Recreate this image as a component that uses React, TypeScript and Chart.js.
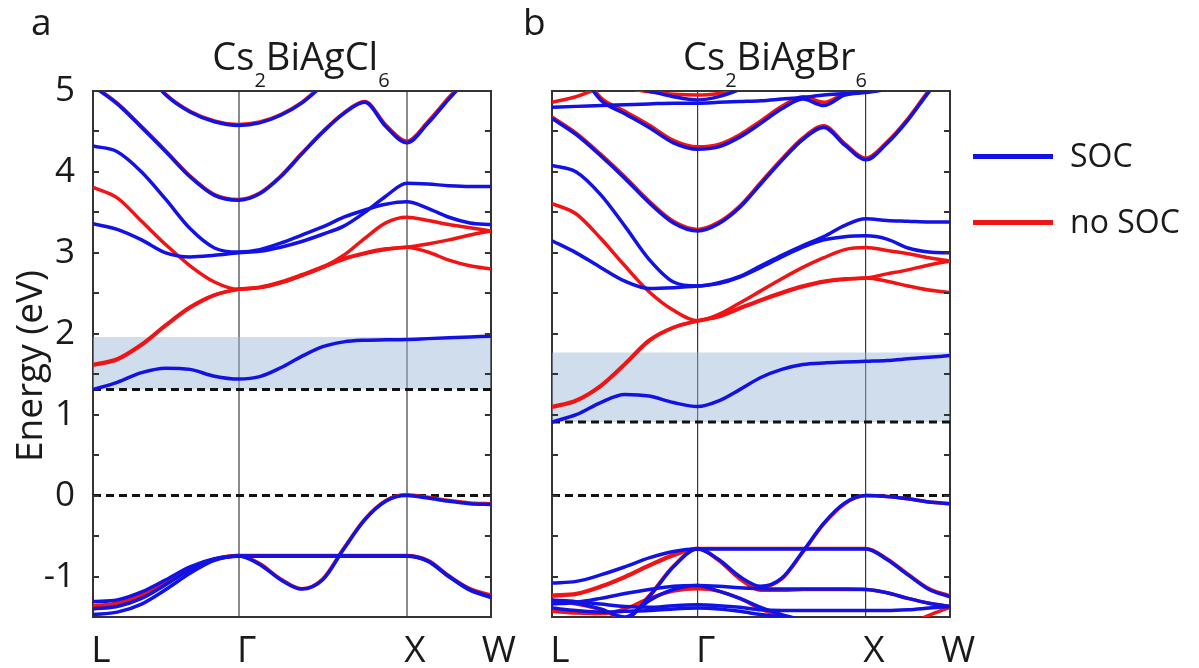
import React, { useEffect, useRef } from 'react';
import { Chart, registerables } from 'chart.js';
Chart.register(...registerables);

// k-path (units of 2π/a): L, Γ, X, W
const kPoints = [0, 0.866, 1.866, 2.366];
const kLabels = ['L', 'Γ', 'X', 'W'];
// sampling positions along the path
const kGrid = [0, 0.144, 0.289, 0.433, 0.577, 0.722, 0.866, 0.991, 1.116, 1.241, 1.366, 1.491, 1.616, 1.741, 1.866, 1.991, 2.116, 2.241, 2.366];
const energyTickLabels = [-1, 0, 1, 2, 3, 4, 5];
const legendLabels = ['SOC', 'no SOC'];
const titles = [['Cs', '2', 'BiAgCl', '6'], ['Cs', '2', 'BiAgBr', '6']];

// ---------- Panel a: Cs2BiAgCl6 ----------
const aGap = [1.31, 1.96];
const aDashes = [1.31, 0];
const aBlue1 = [5.8, 5.55, 5.3, 4.95, 4.74, 4.62, 4.575, 4.606, 4.7, 4.85, 5.07, 5.3, 5.5, 5.6, 5.7, 5.8, 5.9, 6.0, 6.0];
const aBlue2 = [5.06, 4.84, 4.55, 4.25, 3.94, 3.71, 3.65, 3.73, 3.94, 4.22, 4.49, 4.72, 4.86, 4.56, 4.36, 4.6, 4.9, 5.18, 5.45];
const aBlue3 = [4.32, 4.25, 4.0, 3.66, 3.3, 3.06, 3.01, 3.04, 3.12, 3.22, 3.32, 3.44, 3.53, 3.6, 3.63, 3.55, 3.44, 3.37, 3.35];
const aBlue4 = [3.36, 3.29, 3.16, 3.0, 2.95, 2.97, 3.0, 3.02, 3.07, 3.14, 3.23, 3.33, 3.5, 3.7, 3.86, 3.85, 3.83, 3.82, 3.82];
const aBlueGap = [1.31, 1.4, 1.52, 1.575, 1.56, 1.475, 1.44, 1.47, 1.58, 1.72, 1.84, 1.9, 1.92, 1.925, 1.93, 1.94, 1.95, 1.96, 1.97];
const aBlueV1 = [-1.31, -1.29, -1.19, -1.04, -0.88, -0.78, -0.745, -0.745, -0.745, -0.745, -0.745, -0.745, -0.745, -0.745, -0.745, -0.81, -1.0, -1.16, -1.25];
const aBlueV2 = [-1.4, -1.37, -1.27, -1.1, -0.92, -0.79, -0.745, -0.85, -1.04, -1.155, -1.04, -0.66, -0.3, -0.07, 0.0, -0.03, -0.07, -0.1, -0.11];
const aBlueV3 = [-1.47, -1.44, -1.34, -1.16, -0.96, -0.8, -0.75, -0.75, -0.75, -0.75, -0.75, -0.75, -0.75, -0.75, -0.75, -0.81, -1.0, -1.17, -1.26];
const aRed1 = [5.8, 5.55, 5.3, 4.96, 4.75, 4.63, 4.585, 4.616, 4.71, 4.86, 5.08, 5.3, 5.5, 5.6, 5.7, 5.8, 5.9, 6.0, 6.0];
const aRed2 = [5.07, 4.85, 4.56, 4.26, 3.95, 3.72, 3.66, 3.74, 3.95, 4.23, 4.5, 4.73, 4.87, 4.58, 4.38, 4.62, 4.92, 5.2, 5.47];
const aRed3 = [3.81, 3.68, 3.39, 3.1, 2.84, 2.64, 2.55, 2.57, 2.63, 2.72, 2.82, 2.97, 3.18, 3.37, 3.44, 3.4, 3.35, 3.31, 3.27];
const aRed4 = [1.61, 1.68, 1.86, 2.1, 2.32, 2.475, 2.55, 2.575, 2.64, 2.73, 2.83, 2.93, 3.0, 3.05, 3.07, 3.11, 3.16, 3.22, 3.27];
const aRed5 = [1.62, 1.69, 1.87, 2.11, 2.33, 2.48, 2.55, 2.57, 2.63, 2.72, 2.82, 2.92, 2.99, 3.04, 3.07, 3.01, 2.91, 2.84, 2.8];
const aRedV1 = [-1.36, -1.33, -1.23, -1.07, -0.9, -0.785, -0.74, -0.74, -0.74, -0.74, -0.74, -0.74, -0.74, -0.74, -0.74, -0.8, -0.99, -1.15, -1.23];
const aRedV2 = [-1.38, -1.35, -1.25, -1.08, -0.91, -0.785, -0.74, -0.84, -1.03, -1.15, -1.03, -0.65, -0.29, -0.06, 0.01, -0.02, -0.06, -0.09, -0.1];

// ---------- Panel b: Cs2BiAgBr6 ----------
const bGap = [0.91, 1.77];
const bDashes = [0.91, 0];
const bBlueU = [4.66, 4.46, 4.2, 3.92, 3.62, 3.37, 3.27, 3.36, 3.56, 3.85, 4.14, 4.4, 4.55, 4.33, 4.15, 4.35, 4.64, 4.99, 5.3];
const bBlueTop = [5.6, 5.3, 4.89, 4.72, 4.55, 4.36, 4.28, 4.31, 4.43, 4.6, 4.78, 4.9, 4.82, 4.95, 4.98, 5.02, 5.06, 5.1, 5.2];
const bBlueFlat = [4.8, 4.81, 4.82, 4.83, 4.84, 4.85, 4.85, 4.86, 4.87, 4.88, 4.9, 4.92, 4.95, 4.97, 4.99, 5.02, 5.06, 5.1, 5.15];
const bBlueArc = [5.6, 5.4, 5.2, 5.08, 5.0, 4.93, 4.89, 4.93, 5.02, 5.15, 5.3, 5.4, 5.5, 5.6, 5.7, 5.8, 5.9, 6.0, 6.0];
const bBlue408 = [4.08, 4.0, 3.72, 3.33, 2.92, 2.64, 2.59, 2.63, 2.71, 2.84, 2.97, 3.09, 3.2, 3.34, 3.42, 3.4, 3.39, 3.38, 3.38];
const bBlue316 = [3.15, 3.0, 2.82, 2.65, 2.56, 2.57, 2.59, 2.62, 2.7, 2.82, 2.95, 3.07, 3.16, 3.2, 3.21, 3.17, 3.06, 3.01, 3.0];
const bBlueGap = [0.91, 1.0, 1.15, 1.25, 1.23, 1.15, 1.1, 1.17, 1.31, 1.46, 1.56, 1.62, 1.64, 1.65, 1.66, 1.67, 1.69, 1.71, 1.73];
const bBlueV1 = [-1.08, -1.06, -0.98, -0.88, -0.77, -0.69, -0.66, -0.66, -0.66, -0.66, -0.66, -0.66, -0.66, -0.66, -0.66, -0.79, -0.98, -1.16, -1.25];
const bBlueVdip = [-1.3, -1.33, -1.4, -1.5, -1.25, -0.88, -0.66, -0.79, -1.0, -1.12, -1.02, -0.69, -0.34, -0.09, 0.0, -0.01, -0.04, -0.08, -0.1];
const bBlueVarc1 = [-1.34, -1.32, -1.27, -1.21, -1.16, -1.12, -1.11, -1.12, -1.14, -1.15, -1.155, -1.155, -1.155, -1.155, -1.16, -1.2, -1.27, -1.33, -1.37];
const bBlueVarc2 = [-1.7, -1.7, -1.65, -1.55, -1.3, -1.16, -1.11, -1.18, -1.27, -1.38, -1.47, -1.55, -1.7, -1.7, -1.7, -1.7, -1.7, -1.7, -1.7];
const bBlueVbot1 = [-1.29, -1.31, -1.34, -1.37, -1.38, -1.36, -1.35, -1.36, -1.38, -1.41, -1.42, -1.42, -1.42, -1.42, -1.42, -1.42, -1.41, -1.39, -1.37];
const bBlueVbot2 = [-1.39, -1.42, -1.44, -1.43, -1.42, -1.4, -1.39, -1.4, -1.43, -1.47, -1.5, -1.53, -1.56, -1.58, -1.6, -1.6, -1.6, -1.6, -1.6];
const bRedU = [4.68, 4.48, 4.22, 3.94, 3.64, 3.39, 3.29, 3.38, 3.58, 3.87, 4.16, 4.42, 4.57, 4.35, 4.17, 4.37, 4.66, 5.01, 5.32];
const bRedTop = [5.6, 5.32, 4.92, 4.75, 4.58, 4.39, 4.31, 4.34, 4.46, 4.63, 4.81, 4.93, 4.86, 4.97, 5.0, 5.05, 5.1, 5.15, 5.2];
const bRedTopL = [4.86, 4.93, 5.05, 5.2, 5.35, 5.45, 5.5, 5.5, 5.5, 5.45, 5.4, 5.3, 5.2, 5.1, 5.05, 5.1, 5.2, 5.3, 5.4];
const bRedArc = [5.6, 5.4, 5.2, 5.05, 4.99, 4.96, 4.95, 4.97, 5.02, 5.12, 5.25, 5.4, 5.5, 5.6, 5.7, 5.8, 5.9, 6.0, 6.0];
const bRedA = [3.61, 3.48, 3.18, 2.84, 2.52, 2.29, 2.16, 2.24, 2.38, 2.53, 2.68, 2.82, 2.94, 3.04, 3.065, 3.03, 2.99, 2.94, 2.9];
const bRedB = [1.09, 1.17, 1.35, 1.62, 1.91, 2.075, 2.16, 2.22, 2.32, 2.42, 2.51, 2.59, 2.65, 2.68, 2.69, 2.74, 2.79, 2.85, 2.9];
const bRedC = [1.1, 1.18, 1.36, 1.63, 1.92, 2.08, 2.16, 2.21, 2.31, 2.41, 2.5, 2.58, 2.64, 2.67, 2.69, 2.65, 2.59, 2.54, 2.51];
const bRedV1 = [-1.23, -1.21, -1.12, -1.0, -0.86, -0.73, -0.655, -0.655, -0.655, -0.655, -0.655, -0.655, -0.655, -0.655, -0.655, -0.78, -0.97, -1.15, -1.24];
const bRedVdip = [-1.31, -1.34, -1.41, -1.51, -1.24, -0.87, -0.655, -0.8, -1.03, -1.17, -1.17, -1.16, -1.16, -1.16, -1.16, -1.2, -1.27, -1.33, -1.37];
const bRedVrise = [-1.24, -1.22, -1.13, -1.01, -0.87, -0.74, -0.655, -0.8, -1.02, -1.13, -1.03, -0.7, -0.35, -0.1, 0.0, -0.01, -0.04, -0.08, -0.1];
const bRedVarc = [-1.43, -1.45, -1.46, -1.4, -1.27, -1.18, -1.15, -1.18, -1.27, -1.4, -1.5, -1.6, -1.7, -1.7, -1.7, -1.7, -1.6, -1.48, -1.38];

const BLUE = '#1212e4';
const RED = '#f01414';
const SHADE = 'rgba(150,180,215,0.45)';
const FONT = "'Open Sans', 'DejaVu Sans', sans-serif";
const LINE_W = 3.5;

type Panel = {
  gap: number[];
  dashes: number[];
  blue: number[][];
  red: number[][];
  gridColor: string;
  gridWidth: number;
  showY: boolean;
  padLeft: number;
  padRight: number;
};

const panels: Panel[] = [
  {
    gap: aGap, dashes: aDashes,
    blue: [aBlue1, aBlue2, aBlue3, aBlue4, aBlueGap, aBlueV1, aBlueV2, aBlueV3],
    red: [aRed1, aRed2, aRed3, aRed4, aRed5, aRedV1, aRedV2],
    gridColor: '#8a8a8a', gridWidth: 2, showY: true, padLeft: 0, padRight: 28,
  },
  {
    gap: bGap, dashes: bDashes,
    blue: [bBlueU, bBlueTop, bBlueFlat, bBlueArc, bBlue408, bBlue316, bBlueGap, bBlueV1, bBlueVdip, bBlueVarc1, bBlueVarc2, bBlueVbot1, bBlueVbot2],
    red: [bRedU, bRedTop, bRedTopL, bRedArc, bRedA, bRedB, bRedC, bRedV1, bRedVdip, bRedVrise, bRedVarc],
    gridColor: '#3a3a3a', gridWidth: 1.2, showY: false, padLeft: 32, padRight: 30,
  },
];

const toPts = (arr: number[]) => kGrid.map((x, i) => ({ x, y: arr[i] }));
const kMax = kPoints[kPoints.length - 1];

const innerTicks = {
  id: 'innerTicks',
  afterDatasetsDraw(chart: any) {
    const { ctx, chartArea, scales } = chart;
    const y = scales.y;
    ctx.save();
    ctx.strokeStyle = '#333';
    ctx.lineWidth = 2;
    for (const t of y.ticks) {
      if (t.value <= y.min || t.value >= y.max) continue;
      const py = Math.round(y.getPixelForValue(t.value));
      ctx.beginPath();
      ctx.moveTo(chartArea.left, py);
      ctx.lineTo(chartArea.left + 6, py);
      ctx.moveTo(chartArea.right, py);
      ctx.lineTo(chartArea.right - 6, py);
      ctx.stroke();
    }
    ctx.restore();
  },
};

function makeConfig(p: Panel): any {
  const datasets: any[] = [];
  datasets.push({
    data: [{ x: 0, y: p.gap[1] }, { x: kMax, y: p.gap[1] }],
    borderWidth: 0, borderColor: 'transparent', backgroundColor: SHADE,
    fill: { value: p.gap[0] }, order: 30,
  });
  p.dashes.forEach((v) =>
    datasets.push({
      data: [{ x: 0, y: v }, { x: kMax, y: v }],
      borderColor: '#111', borderWidth: 3, borderDash: [8, 5], fill: false, order: 20,
    })
  );
  p.red.forEach((b) =>
    datasets.push({ data: toPts(b), borderColor: RED, borderWidth: LINE_W, fill: false, order: 10, cubicInterpolationMode: 'monotone' })
  );
  p.blue.forEach((b) =>
    datasets.push({ data: toPts(b), borderColor: BLUE, borderWidth: LINE_W, fill: false, order: 1, cubicInterpolationMode: 'monotone' })
  );

  return {
    type: 'line',
    data: { datasets },
    plugins: [innerTicks],
    options: {
      animation: false,
      responsive: false,
      events: [],
      layout: { padding: { left: p.padLeft, right: p.padRight, top: 91, bottom: 0 } },
      elements: { point: { radius: 0 }, line: { tension: 0 } },
      datasets: { line: { clip: 0 } },
      plugins: { legend: { display: false }, tooltip: { enabled: false }, title: { display: false } },
      scales: {
        x: {
          type: 'linear', min: 0, max: kMax, position: 'bottom',
          afterBuildTicks: (s: any) => { s.ticks = kPoints.map((v) => ({ value: v })); },
          afterFit: (s: any) => { s.height = 51; },
          ticks: {
            autoSkip: false, maxRotation: 0, padding: 12, labelOffset: 8,
            color: '#1a1a1a', font: { family: FONT, size: 37 },
            callback: (_v: any, i: number) => kLabels[i],
          },
          grid: {
            drawTicks: false,
            color: (c: any) => (c.index === 1 || c.index === 2 ? p.gridColor : 'transparent'),
            lineWidth: p.gridWidth,
          },
          border: { display: true, color: '#333', width: 2 },
        },
        x2: {
          type: 'linear', min: 0, max: kMax, position: 'top', display: true,
          afterFit: (s: any) => { s.height = 0; },
          ticks: { display: false },
          grid: { drawOnChartArea: false, drawTicks: false },
          border: { display: true, color: '#333', width: 2 },
        },
        y: {
          type: 'linear', min: -1.5, max: 5, position: 'left',
          afterFit: (s: any) => { s.width = p.showY ? 93 : 0; },
          ticks: {
            display: p.showY, stepSize: 0.5, padding: 18, autoSkip: false,
            color: '#1a1a1a', font: { family: FONT, size: 35 },
            callback: (v: any) => (energyTickLabels.includes(Number(v)) ? String(v) : ''),
          },
          grid: { drawOnChartArea: false, drawTicks: false },
          border: { display: true, color: '#333', width: 2 },
        },
        y2: {
          type: 'linear', min: -1.5, max: 5, position: 'right', display: true,
          afterFit: (s: any) => { s.width = 0; },
          ticks: { display: false },
          grid: { drawOnChartArea: false, drawTicks: false },
          border: { display: true, color: '#333', width: 2 },
        },
      },
    },
  };
}

function BandChart({ panel, left, width }: { panel: Panel; left: number; width: number }) {
  const ref = useRef<HTMLCanvasElement | null>(null);
  useEffect(() => {
    if (!ref.current) return;
    const chart = new Chart(ref.current, makeConfig(panel));
    return () => chart.destroy();
  }, [panel]);
  return (
    <canvas
      ref={ref}
      width={width}
      height={668}
      style={{ position: 'absolute', left, top: 0, width, height: 668 }}
    />
  );
}

function Title({ parts, cx }: { parts: string[]; cx: number }) {
  const sub: React.CSSProperties = { fontSize: 20, verticalAlign: '-17px', lineHeight: 0 };
  return (
    <div
      style={{
        position: 'absolute', left: cx - 160, width: 320, top: 36, textAlign: 'center',
        fontFamily: FONT, fontSize: 38, lineHeight: '38px', color: '#1a1a1a', whiteSpace: 'nowrap',
      }}
    >
      {parts[0]}
      <span style={sub}>{parts[1]}</span>
      {parts[2]}
      <span style={sub}>{parts[3]}</span>
    </div>
  );
}

export default function App() {
  const txt: React.CSSProperties = { position: 'absolute', fontFamily: FONT, color: '#1a1a1a', whiteSpace: 'nowrap' };
  return (
    <div style={{ position: 'absolute', left: 0, top: 0, width: 1199, height: 668, background: '#fff', overflow: 'hidden' }}>
      <BandChart panel={panels[0]} left={0} width={520} />
      <BandChart panel={panels[1]} left={520} width={460} />
      <Title parts={titles[0]} cx={301} />
      <Title parts={titles[1]} cx={775} />
      <div style={{ ...txt, left: 31, top: 2, fontSize: 37, lineHeight: '37px' }}>a</div>
      <div style={{ ...txt, left: 523, top: 2, fontSize: 37, lineHeight: '37px' }}>b</div>
      <div
        style={{
          ...txt, left: 28 - 150, top: 366 - 22, width: 300, height: 44, lineHeight: '44px',
          textAlign: 'center', fontSize: 37, transform: 'rotate(-90deg)',
        }}
      >
        Energy (eV)
      </div>
      <div style={{ position: 'absolute', left: 973, top: 153.5, width: 80, height: 5, background: BLUE }} />
      <div style={{ position: 'absolute', left: 973, top: 219.5, width: 80, height: 5, background: RED }} />
      <div style={{ ...txt, left: 1070, top: 139, fontSize: 32, lineHeight: '32px' }}>{legendLabels[0]}</div>
      <div style={{ ...txt, left: 1070, top: 205, fontSize: 32, lineHeight: '32px' }}>{legendLabels[1]}</div>
    </div>
  );
}
